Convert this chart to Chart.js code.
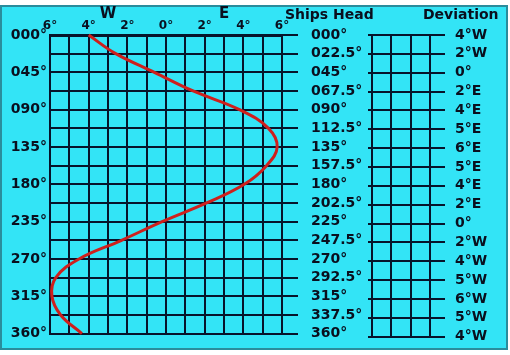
<!DOCTYPE html>
<html>
<head>
<meta charset="utf-8">
<script src="https://cdn.jsdelivr.net/npm/chart.js@4.4.1/dist/chart.umd.min.js"></script>
<style>
  html, body { margin: 0; padding: 0; background: #fff; }
  #wrap { position: relative; width: 510px; height: 355px; overflow: hidden; }
  #panel { position: absolute; left: 0; top: 5px; width: 504px; height: 341px; background: #33e4f6; border: 2px solid #2a8c9c; }
  #devChart { position: absolute; left: 0; top: 0; }
  #tableChart { position: absolute; left: 365px; top: 0; }
</style>
</head>
<body>
<div id="wrap">
  <div id="panel"></div>
  <canvas id="devChart" width="510" height="355"></canvas>
  <canvas id="tableChart" width="145" height="355"></canvas>
</div>
<script>
// ---- data ----
const headings = [0, 22.5, 45, 67.5, 90, 112.5, 135, 157.5, 180, 202.5, 225, 247.5, 270, 292.5, 315, 337.5, 360];
const headLabels = ['000°', '022.5°', '045°', '067.5°', '090°', '112.5°', '135°', '157.5°', '180°', '202.5°', '225°', '247.5°', '270°', '292.5°', '315°', '337.5°', '360°'];
const deviationLabels = ['4°W', '2°W', '0°', '2°E', '4°E', '5°E', '6°E', '5°E', '4°E', '2°E', '0°', '2°W', '4°W', '5°W', '6°W', '5°W', '4°W'];
// curve (E positive, W negative)
const curveDev = [-4, -2.6, -0.6, 1.4, 3.8, 5.3, 5.75, 5.2, 4.05, 2.1, -0.2, -2.3, -4.5, -5.7, -5.9, -5.45, -4.35];
const sideLabels = ['000°', '045°', '090°', '135°', '180°', '235°', '270°', '315°', '360°'];
const degTicks = [-6, -5, -4, -3, -2, -1, 0, 1, 2, 3, 4, 5, 6];
const topLabels = ['6°', '4°', '2°', '0°', '2°', '4°', '6°'];

const ink = '#0a0f1e';
const gridColor = '#07132a';
const boldFont = (size) => ({ family: '"DejaVu Sans", sans-serif', size: size, weight: 'bold' });

Chart.defaults.animation = false;
Chart.defaults.color = ink;

function headingTicks(scale) {
    scale.ticks = headings.map(v => ({ value: v }));
}

// W / E and header text
const headerText = {
    id: 'headerText',
    afterDraw(chart) {
        const ctx = chart.ctx;
        const x = chart.scales.x;
        ctx.save();
        ctx.fillStyle = ink;
        ctx.textBaseline = 'middle';
        ctx.font = 'bold 15px "DejaVu Sans", sans-serif';
        ctx.textAlign = 'center';
        ctx.fillText('W', x.getPixelForValue(-3), 14);
        ctx.fillText('E', x.getPixelForValue(3), 14);
        ctx.font = 'bold 14px "DejaVu Sans", sans-serif';
        ctx.textAlign = 'left';
        ctx.fillText('Ships Head', chart.chartArea.right + 3, 15);
        ctx.restore();
    }
};

new Chart(document.getElementById('devChart'), {
    type: 'scatter',
    data: {
        datasets: [{
            data: headings.map((h, i) => ({ x: curveDev[i], y: h })),
            showLine: true,
            tension: 0.4,
            borderColor: '#cf1f1c',
            borderWidth: 3,
            pointRadius: 0,
            clip: false
        }]
    },
    options: {
        responsive: false,
        devicePixelRatio: 1,
        layout: { padding: { left: 0, right: 0, top: 0, bottom: 16 } },
        plugins: { legend: { display: false }, tooltip: { enabled: false } },
        scales: {
            x: {
                type: 'linear', position: 'top', min: -6, max: 6,
                afterBuildTicks: (s) => { s.ticks = degTicks.map(v => ({ value: v })); },
                afterFit: (s) => { s.height = 35; },
                ticks: {
                    autoSkip: false, maxRotation: 0, padding: 2, font: boldFont(12), color: ink,
                    callback: (v, i) => i % 2 === 0 ? topLabels[i / 2] : ''
                },
                grid: { color: gridColor, lineWidth: 2, drawTicks: false },
                border: { display: true, color: gridColor, width: 3 }
            },
            y: {
                type: 'linear', position: 'left', min: 0, max: 360, reverse: true,
                afterBuildTicks: headingTicks,
                afterFit: (s) => { s.width = 50; },
                ticks: {
                    autoSkip: false, padding: 3, font: boldFont(14), color: ink,
                    callback: (v, i) => i % 2 === 0 ? sideLabels[i / 2] : ''
                },
                grid: { color: gridColor, lineWidth: 2, drawTicks: false },
                border: { display: true, color: gridColor, width: 2 }
            },
            y2: {
                type: 'linear', position: 'right', min: 0, max: 360, reverse: true,
                afterBuildTicks: headingTicks,
                afterFit: (s) => { s.width = 228; },
                ticks: {
                    autoSkip: false, padding: 13, font: boldFont(14), color: ink,
                    callback: (v, i) => headLabels[i]
                },
                grid: { color: gridColor, lineWidth: 2, drawOnChartArea: false, drawTicks: true, tickLength: 16 },
                border: { display: true, color: gridColor, width: 2 }
            }
        }
    },
    plugins: [headerText]
});

// right-hand deviation table
const tableHeader = {
    id: 'tableHeader',
    afterDraw(chart) {
        const ctx = chart.ctx;
        ctx.save();
        ctx.fillStyle = ink;
        ctx.textBaseline = 'middle';
        ctx.textAlign = 'left';
        ctx.font = 'bold 14px "DejaVu Sans", sans-serif';
        ctx.fillText('Deviation', chart.chartArea.right - 7, 15);
        ctx.restore();
    }
};

new Chart(document.getElementById('tableChart'), {
    type: 'scatter',
    data: { datasets: [] },
    options: {
        responsive: false,
        devicePixelRatio: 1,
        layout: { padding: { left: 0, right: 0, top: 0, bottom: 16 } },
        plugins: { legend: { display: false }, tooltip: { enabled: false } },
        scales: {
            x: {
                type: 'linear', position: 'top', min: 0, max: 3,
                afterBuildTicks: (s) => { s.ticks = [0, 1, 2, 3].map(v => ({ value: v })); },
                afterFit: (s) => { s.height = 35; },
                ticks: { display: false },
                grid: { color: gridColor, lineWidth: 2, drawTicks: false },
                border: { display: false }
            },
            y: {
                type: 'linear', position: 'left', min: 0, max: 360, reverse: true,
                afterBuildTicks: headingTicks,
                afterFit: (s) => { s.width = 7; },
                ticks: { display: false },
                grid: { color: gridColor, lineWidth: 2, drawTicks: true, tickLength: 4 },
                border: { display: false }
            },
            y2: {
                type: 'linear', position: 'right', min: 0, max: 360, reverse: true,
                afterBuildTicks: headingTicks,
                afterFit: (s) => { s.width = 80; },
                ticks: {
                    autoSkip: false, padding: 10, font: boldFont(14), color: ink,
                    callback: (v, i) => deviationLabels[i]
                },
                grid: { color: gridColor, lineWidth: 2, drawOnChartArea: false, drawTicks: true, tickLength: 15 },
                border: { display: false }
            }
        }
    },
    plugins: [tableHeader]
});
</script>
</body>
</html>
